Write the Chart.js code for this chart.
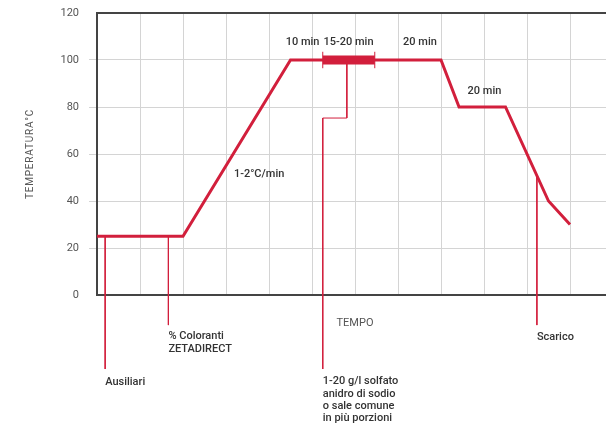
<!DOCTYPE html>
<html lang="it">
    <head>
        <meta charset="UTF-8" />
        <title>Ciclo di tintura</title>
        <style>
            body {
                margin: 0;
                background: #fff;
                overflow: hidden;
            }
            .wrap {
                position: relative;
                width: 613px;
                height: 423px;
            }
        </style>
    </head>
    <body>
        <div class="wrap">
            <canvas id="cycleChart"></canvas>
        </div>

        <script src="https://cdn.jsdelivr.net/npm/chart.js"></script>
        <script>
            // curva di temperatura (tempo in unità di griglia, °C)
            const timeX = [0, 2, 4.5, 8, 8.42, 9.5, 10.5, 11]
            const tempY = [25, 25, 100, 100, 80, 80, 40, 30]

            // mantenimento 15-20 min
            const holdX = [5.25, 6.46]
            const holdTemp = 100

            // linee di richiamo: [tempo, temperatura]
            const leaderAusiliari = [[0.19, 25], [0.19, -31.5]]
            const leaderColoranti = [[1.66, 25], [1.66, -12.8]]
            const leaderSale = [[5.81, 100], [5.81, 75.3], [5.25, 75.3], [5.25, -31.5]]
            const leaderScarico = [[10.23, 50.4], [10.23, -12.8]]

            // scritte
            const noteText = [
                ["10 min"],
                ["15-20 min"],
                ["20 min"],
                ["20 min"],
                ["1-2°C/min"],
                ["% Coloranti", "ZETADIRECT"],
                ["Ausiliari"],
                ["1-20 g/l solfato", "anidro di sodio", "o sale comune", "in più porzioni"],
                ["Scarico"],
            ]
            const noteX = [4.78, 5.85, 7.51, 9.01, 3.77, 1.66, 0.19, 5.25, 10.23]
            const noteY = [107.4, 107.4, 107.4, 86.8, 51.5, -17.7, -37, -36.9, -18]
            const noteAlign = ["center", "center", "center", "center", "center", "left", "left", "left", "left"]

            const yTicks = [0, 20, 40, 60, 80, 100, 120]
            const yTitle = "TEMPERATURA°C"

            const RED = "#d21f3c"
            const GRID = "#d4d4d4"
            const AXIS = "#444"

            const toPts = (arr) => arr.map((p) => ({ x: p[0], y: p[1] }))

            const leader = (pts) => ({
                data: toPts(pts),
                borderColor: RED,
                borderWidth: 1,
                pointRadius: 0,
                clip: false,
            })

            const notesPlugin = {
                id: "notes",
                afterDatasetsDraw(chart) {
                    const { ctx, scales, chartArea } = chart
                    ctx.save()
                    ctx.fillStyle = "#333"
                    ctx.font = "500 11px Roboto"
                    ctx.textBaseline = "middle"
                    noteText.forEach((lines, i) => {
                        const px = scales.x.getPixelForValue(noteX[i])
                        const py = scales.y.getPixelForValue(noteY[i])
                        ctx.textAlign = noteAlign[i]
                        lines.forEach((t, j) => {
                            ctx.fillText(t, px, py + j * 12.3)
                        })
                    })
                    // titolo asse y con spaziatura
                    ctx.fillStyle = "#555"
                    ctx.font = "10px Roboto"
                    ctx.letterSpacing = "0.8px"
                    ctx.textAlign = "center"
                    ctx.translate(30, (chartArea.top + chartArea.bottom) / 2)
                    ctx.rotate(-Math.PI / 2)
                    ctx.fillText(yTitle, 0, 0)
                    ctx.restore()
                },
            }

            new Chart(document.getElementById("cycleChart"), {
                type: "line",
                data: {
                    datasets: [
                        {
                            data: timeX.map((x, i) => ({ x: x, y: tempY[i] })),
                            borderColor: RED,
                            borderWidth: 3,
                            pointRadius: 0,
                            tension: 0,
                        },
                        {
                            data: holdX.map((x) => ({ x: x, y: holdTemp })),
                            borderColor: RED,
                            borderWidth: 9,
                            borderCapStyle: "butt",
                            pointRadius: 0,
                        },
                        leader([[holdX[0], holdTemp - 3.5], [holdX[0], holdTemp + 3.5]]),
                        leader([[holdX[1], holdTemp - 3.5], [holdX[1], holdTemp + 3.5]]),
                        leader(leaderAusiliari),
                        leader(leaderColoranti),
                        leader(leaderSale),
                        leader(leaderScarico),
                    ],
                },
                options: {
                    responsive: true,
                    maintainAspectRatio: false,
                    animation: false,
                    layout: { padding: { top: 13, right: 0, bottom: 0, left: 0 } },
                    plugins: {
                        legend: { display: false },
                        tooltip: { enabled: false },
                    },
                    scales: {
                        x: {
                            type: "linear",
                            min: 0,
                            max: 12,
                            afterFit: (s) => {
                                s.height = 128
                                s.paddingLeft = 0
                                s.paddingRight = 0
                            },
                            ticks: { display: false, stepSize: 1 },
                            grid: { color: GRID, drawTicks: false },
                            border: { color: AXIS, width: 2 },
                            title: {
                                display: true,
                                text: "TEMPO",
                                color: "#555",
                                font: { family: "Roboto", size: 11 },
                                padding: { top: 0, bottom: 93 },
                            },
                        },
                        y: {
                            min: 0,
                            max: 120,
                            afterFit: (s) => {
                                s.width = 97
                                s.paddingTop = 0
                                s.paddingBottom = 0
                            },
                            afterBuildTicks: (s) => {
                                s.ticks = yTicks.map((v) => ({ value: v }))
                            },
                            ticks: {
                                color: "#555",
                                padding: 10,
                                font: { family: "Roboto", size: 11 },
                            },
                            grid: {
                                tickLength: 8,
                                color: (c) => (c.tick && c.tick.value === 120 ? AXIS : GRID),
                                lineWidth: (c) => (c.tick && c.tick.value === 120 ? 2 : 1),
                                tickColor: (c) =>
                                    c.tick && (c.tick.value === 120 || c.tick.value === 0) ? "rgba(0,0,0,0)" : GRID,
                            },
                            border: { color: AXIS, width: 2 },
                        },
                    },
                },
                plugins: [notesPlugin],
            })
        </script>
    </body>
</html>
